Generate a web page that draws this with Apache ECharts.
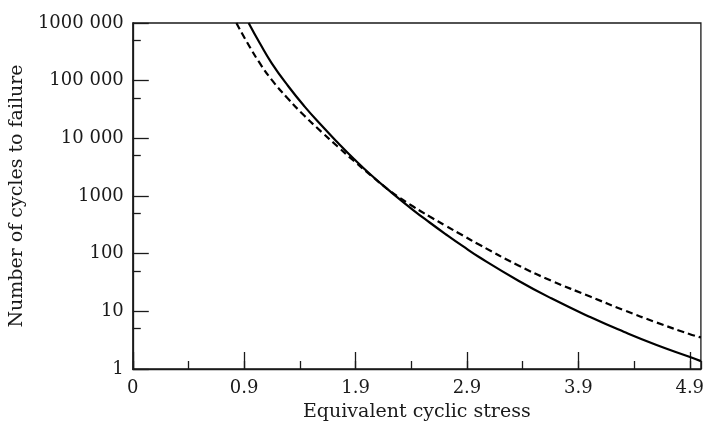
<!DOCTYPE html>
<html>
<head>
<meta charset="utf-8">
<title>Cycles to failure</title>
<script src="https://cdn.jsdelivr.net/npm/echarts@6/dist/echarts.min.js"></script>
<style>
  html, body { margin: 0; padding: 0; background: #fff; }
  #chart { width: 707px; height: 427px; }
</style>
</head>
<body>
<div id="chart"></div>
<script>
// solid curve
const solidStress = [0.94, 1.042, 1.148, 1.296, 1.443, 1.591, 1.739, 1.886, 2.034, 2.211, 2.417, 2.565, 2.713, 2.86, 3.008, 3.362, 3.657, 4.011, 4.307, 4.602, 4.896, 5.0]
const solidCycles = [1000000, 440000, 200000, 80000, 35500, 17000, 8470, 4380, 2360, 1200, 571, 347, 215, 136, 87.5, 34.0, 16.8, 7.88, 4.43, 2.61, 1.63, 1.37]
// dashed curve
const dashedStress = [0.83, 0.927, 1.033, 1.148, 1.296, 1.443, 1.591, 1.739, 1.886, 2.034, 2.211, 2.417, 2.565, 2.713, 2.86, 3.008, 3.362, 3.657, 4.011, 4.307, 4.602, 4.896, 5.0]
const dashedCycles = [1000000, 459000, 211000, 103000, 48100, 24400, 13100, 7210, 4040, 2310, 1220, 657, 441, 302, 208, 144, 62.3, 34.0, 17.9, 10.5, 6.4, 4.05, 3.52]

// tick labels
const xTickLabels = ['0', '0.9', '1.9', '2.9', '3.9', '4.9']
const yTickLabels = ['1', '10', '100', '1000', '10 000', '100 000', '1000 000']
const yMinorTicks = [5, 50, 500, 5000, 50000, 500000]

const font = 'DejaVu Serif'
const ink = '#1a1a1a'

const chart = echarts.init(document.getElementById('chart'))

const pairs = (xs, ys) => xs.map((x, i) => [x, ys[i]])

const option = {
  animation: false,
  backgroundColor: '#fff',
  grid: {
    left: 129,
    right: 2,
    top: 23,
    bottom: 58,
    show: true,
    borderColor: ink,
    borderWidth: 1.3
  },
  xAxis: [
    {
      type: 'value',
      min: -0.1,
      max: 5.0,
      interval: 1,
      name: 'Equivalent cyclic stress',
      nameLocation: 'middle',
      nameGap: 34,
      nameTextStyle: { fontFamily: font, fontSize: 19, color: ink },
      axisLine: { show: true, onZero: false, lineStyle: { color: ink, width: 1.3 } },
      axisTick: { show: true, inside: true, length: 17, lineStyle: { color: ink, width: 1.3 } },
      axisLabel: {
        margin: 10,
        fontFamily: font,
        fontSize: 18,
        color: ink,
        showMaxLabel: false,
        formatter: (v) => xTickLabels[Math.round(v + 0.1)] || ''
      },
      splitLine: { show: false }
    },
    {
      // minor ticks
      type: 'value',
      position: 'bottom',
      min: -0.1,
      max: 5.0,
      interval: 0.5,
      axisLine: { show: false, onZero: false },
      axisTick: { show: true, inside: true, length: 8, lineStyle: { color: ink, width: 1.3 } },
      axisLabel: { show: false },
      splitLine: { show: false }
    }
  ],
  yAxis: [
    {
      type: 'log',
      logBase: 10,
      min: 1,
      max: 1000000,
      name: 'Number of cycles to failure',
      nameLocation: 'middle',
      nameGap: 100,
      nameTextStyle: { fontFamily: font, fontSize: 19, color: ink },
      axisLine: { show: true, onZero: false, lineStyle: { color: ink, width: 1.3 } },
      axisTick: { show: true, inside: true, length: 16, lineStyle: { color: ink, width: 1.3 } },
      axisLabel: {
        margin: 9,
        fontFamily: font,
        fontSize: 18,
        color: ink,
        formatter: (v) => yTickLabels[Math.round(Math.log10(v))]
      },
      splitLine: { show: false }
    },
    {
      // minor ticks at 5 x 10^n, placed in log space
      type: 'value',
      position: 'left',
      min: 0,
      max: 6,
      axisLine: { show: false, onZero: false },
      axisTick: {
        show: true,
        inside: true,
        length: 8,
        customValues: yMinorTicks.map(v => Math.log10(v)),
        lineStyle: { color: ink, width: 1.3 }
      },
      axisLabel: { show: false },
      splitLine: { show: false }
    }
  ],
  series: [
    {
      name: 'solid',
      type: 'line',
      xAxisIndex: 0,
      yAxisIndex: 0,
      smooth: true,
      symbol: 'none',
      clip: true,
      lineStyle: { color: '#000', width: 2.2, type: 'solid' },
      data: pairs(solidStress, solidCycles)
    },
    {
      name: 'dashed',
      type: 'line',
      xAxisIndex: 0,
      yAxisIndex: 0,
      smooth: true,
      symbol: 'none',
      clip: true,
      lineStyle: { color: '#000', width: 2.2, type: [7, 4] },
      data: pairs(dashedStress, dashedCycles)
    }
  ]
}

chart.setOption(option)
window.onresize = () => {
  chart.resize()
}
</script>
</body>
</html>
